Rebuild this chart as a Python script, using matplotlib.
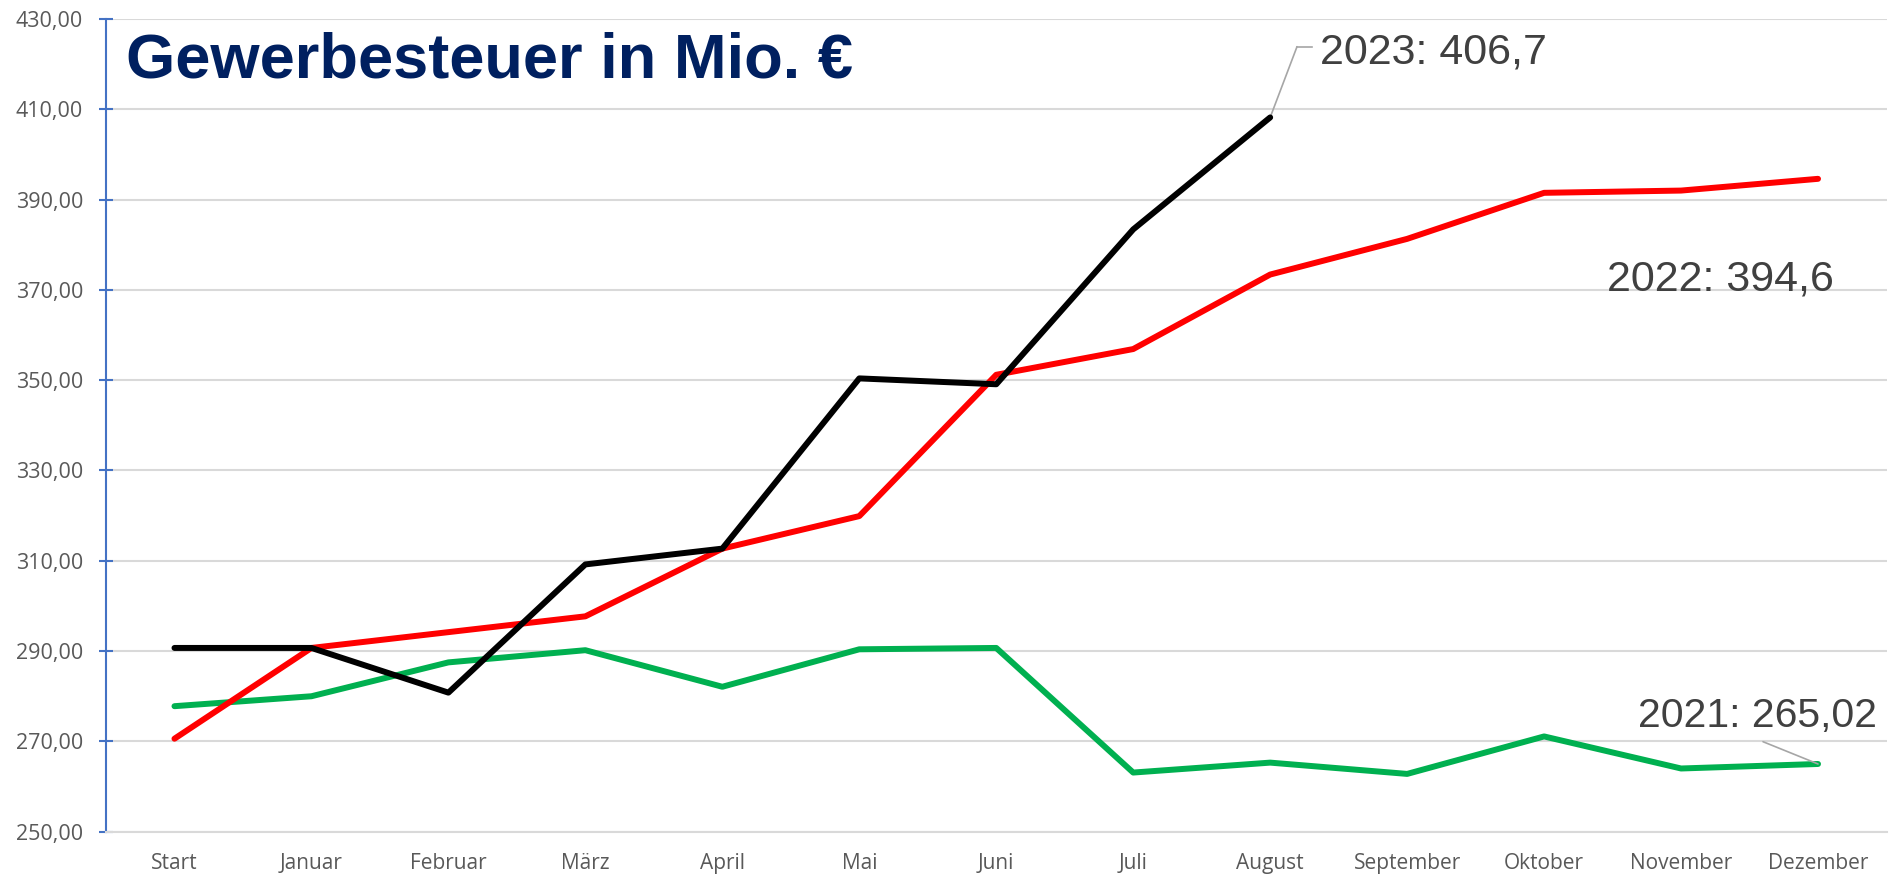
import matplotlib
matplotlib.use("Agg")
import matplotlib.pyplot as plt
from matplotlib.ticker import FuncFormatter

months = ["Start", "Januar", "Februar", "März", "April", "Mai", "Juni", "Juli",
          "August", "September", "Oktober", "November", "Dezember"]
y2023 = [290.7, 290.7, 280.8, 309.2, 312.7, 350.4, 349.1, 383.4, 408.2]
y2022 = [270.6, 290.7, 294.2, 297.7, 312.7, 319.9, 351.2, 356.9, 373.4, 381.3, 391.5, 392.0, 394.6]
y2021 = [277.8, 280.0, 287.5, 290.2, 282.1, 290.4, 290.7, 263.1, 265.3, 262.8, 271.1, 264.0, 265.0]
yticks = [250, 270, 290, 310, 330, 350, 370, 390, 410, 430]
labels = {"2023": "2023: 406,7", "2022": "2022: 394,6", "2021": "2021: 265,02"}
title = "Gewerbesteuer in Mio. €"

W, H = 1893, 875
fig = plt.figure(figsize=(W / 100, H / 100), dpi=100)
ax = fig.add_axes([106 / W, 1 - 831.7 / H, (1886.5 - 106) / W, (831.7 - 19) / H])

x = list(range(len(months)))
kw = dict(lw=4.3, solid_capstyle="round", solid_joinstyle="round")
ax.plot(x, y2021, color="#00B050", zorder=3, **kw)
ax.plot(x, y2022, color="#FF0000", zorder=4, **kw)
ax.plot(x[:len(y2023)], y2023, color="#000000", zorder=5, **kw)

ax.set_xlim(-0.5, len(months) - 0.5)
ax.set_ylim(yticks[0], yticks[-1])
ax.set_yticks(yticks)
ax.yaxis.set_major_formatter(FuncFormatter(lambda v, p: f"{v:.2f}".replace(".", ",")))
ax.set_xticks(x)
ax.set_xticklabels(months)

ax.grid(axis="y", color="#D9D9D9", lw=1.5, zorder=0)
ax.set_axisbelow(True)
for s in ["top", "right"]:
    ax.spines[s].set_visible(False)
ax.spines["bottom"].set_color("#D9D9D9")
ax.spines["bottom"].set_linewidth(1.5)
ax.spines["left"].set_color("#4472C4")
ax.spines["left"].set_linewidth(1.5)
ax.tick_params(axis="y", direction="inout", length=10, width=1.5, color="#4472C4",
               labelsize=15.5, labelcolor="#595959", pad=11.5)
ax.tick_params(axis="x", length=0, labelsize=15, labelcolor="#595959", pad=15)
for t in ax.get_xticklabels() + ax.get_yticklabels():
    t.set_fontfamily("Open Sans")

fig.text(126 / W, 1 - 77.3 / H, title, fontsize=45.5, fontweight="bold",
         color="#002060", family="Liberation Sans", ha="left", va="baseline")

fx = lambda px: px / W
fy = lambda py: 1 - py / H
lab_kw = dict(color="#404040", family="Liberation Sans", ha="left", va="baseline")
# 2023 label with leader
fig.text(fx(1320), fy(63.3), labels["2023"], fontsize=31, **lab_kw)
ax.annotate("", xy=(8, y2023[-1]), xytext=(fx(1297), fy(46.7)), textcoords="figure fraction",
            arrowprops=dict(arrowstyle="-", color="#A6A6A6", lw=1.2, shrinkA=0, shrinkB=0))
fig.add_artist(plt.Line2D([fx(1297), fx(1312)], [fy(46.7), fy(46.7)], color="#A6A6A6", lw=1.2))
# 2022 label
fig.text(fx(1607), fy(291), labels["2022"], fontsize=31, **lab_kw)
# 2021 label with leader
fig.text(fx(1638), fy(727), labels["2021"], fontsize=29.5, **lab_kw)
ax.annotate("", xy=(12, y2021[-1]), xytext=(fx(1763), fy(741.7)), textcoords="figure fraction",
            arrowprops=dict(arrowstyle="-", color="#A6A6A6", lw=1.2, shrinkA=0, shrinkB=0))

fig.savefig("out.png", dpi=100)
